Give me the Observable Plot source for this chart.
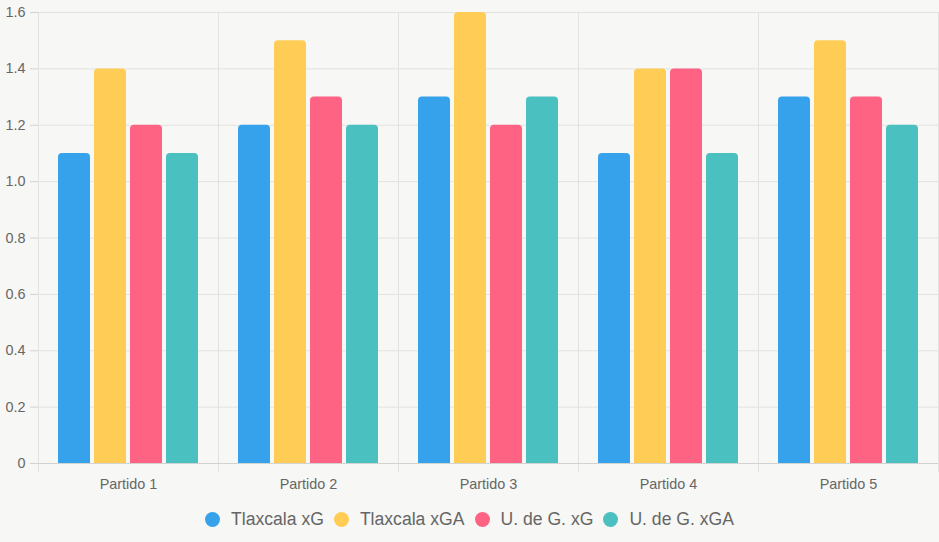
<!DOCTYPE html>
<html>
<head>
<meta charset="utf-8">
<script src="https://cdn.jsdelivr.net/npm/d3@7"></script>
<script src="https://cdn.jsdelivr.net/npm/@observablehq/plot@0.6"></script>
<style>
  html, body { margin: 0; padding: 0; background: #f7f7f5; }
  #chart { width: 939px; }
  .legend {
    display: flex; justify-content: center; align-items: center;
    margin-top: 10px; height: 18px;
    font-family: "Liberation Sans", Arial, sans-serif; font-size: 17.6px; color: #666;
  }
  .legend .item { display: flex; align-items: center; margin: 0 5px; }
  .legend .dot { width: 15px; height: 15px; border-radius: 50%; margin-right: 11px; }
</style>
</head>
<body>
<div id="chart"></div>
<script>
// Matches and series
const partidos = ["Partido 1", "Partido 2", "Partido 3", "Partido 4", "Partido 5"];
const series = ["Tlaxcala xG", "Tlaxcala xGA", "U. de G. xG", "U. de G. xGA"];
const colors = ["#36a2eb", "#ffcd56", "#ff6384", "#4bc0c0"];

const tlaxcalaXG = [1.1, 1.2, 1.3, 1.1, 1.3];
const tlaxcalaXGA = [1.4, 1.5, 1.6, 1.4, 1.5];
const udgXG = [1.2, 1.3, 1.2, 1.4, 1.3];
const udgXGA = [1.1, 1.2, 1.3, 1.1, 1.2];

const yTicks = [0, 0.2, 0.4, 0.6, 0.8, 1.0, 1.2, 1.4, 1.6];

// Long-format table for the grouped bars
const seriesValues = [tlaxcalaXG, tlaxcalaXGA, udgXG, udgXGA];
const rows = [];
partidos.forEach((p, i) => {
  series.forEach((s, j) => rows.push({partido: p, serie: s, value: seriesValues[j][i]}));
});

const gridColor = "#e2e2e0";
const axisColor = "#d2d2d0";

const chart = Plot.plot({
  width: 939,
  height: 500,
  marginTop: 12,
  marginLeft: 38,
  marginRight: 1,
  marginBottom: 37,
  style: {background: "transparent", fontFamily: "'Liberation Sans', Arial, sans-serif", fontSize: "14.4px", color: "#666"},
  fx: {domain: partidos, padding: 0, label: null},
  x: {domain: series, paddingInner: 0.1, paddingOuter: 0.55, axis: null},
  y: {domain: [0, 1.6], label: null},
  color: {domain: series, range: colors},
  marks: [
    Plot.gridY(yTicks, {stroke: gridColor, strokeOpacity: 1}),
    Plot.frame({anchor: "left", stroke: gridColor, strokeOpacity: 1, insetBottom: -8}),
    Plot.frame({anchor: "right", stroke: gridColor, strokeOpacity: 1, insetBottom: -8}),
    Plot.barY(rows, {fx: "partido", x: "serie", y: "value", fill: "serie", rx: 4, insetBottom: -6, clip: true}),
    Plot.ruleY([0], {stroke: axisColor}),
    Plot.axisY(yTicks, {
      tickSize: 8, tickPadding: 5, stroke: axisColor, fill: "#666",
      tickFormat: d => d === 0 ? "0" : d.toFixed(1), label: null
    }),
    Plot.axisFx({anchor: "bottom", tickSize: 0, tickPadding: 15, fill: "#666", label: null})
  ]
});
document.getElementById("chart").appendChild(chart);

// Legend row below the chart
const legend = document.createElement("div");
legend.className = "legend";
series.forEach((s, i) => {
  const item = document.createElement("div");
  item.className = "item";
  const dot = document.createElement("span");
  dot.className = "dot";
  dot.style.background = colors[i];
  const label = document.createElement("span");
  label.textContent = s;
  item.append(dot, label);
  legend.appendChild(item);
});
document.body.appendChild(legend);
</script>
</body>
</html>
